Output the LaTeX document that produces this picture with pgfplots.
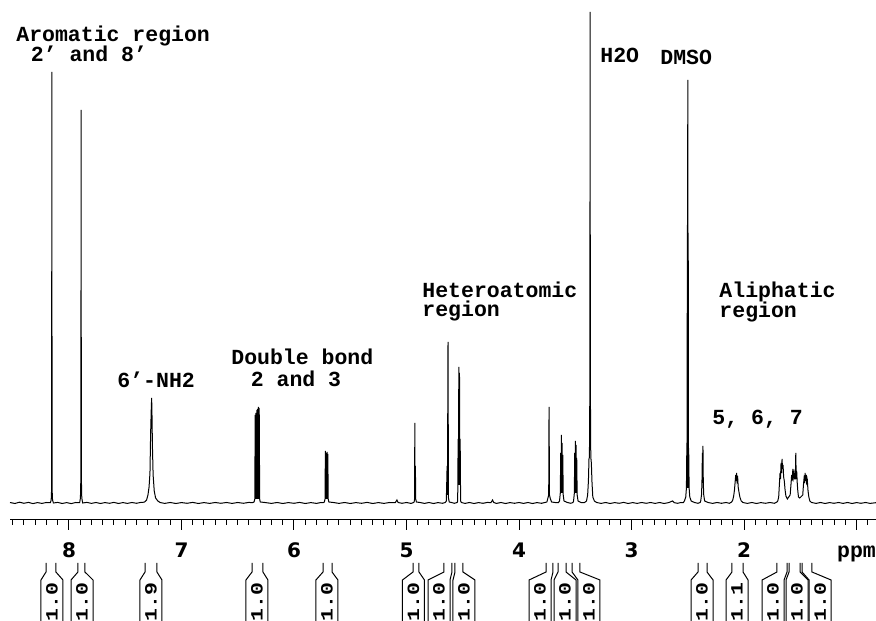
\documentclass[border=0pt]{standalone}
\usepackage{fontspec}
\usepackage{graphicx}
\usepackage{pgfplots}
\pgfplotsset{compat=1.18}
\newfontfamily\lmono{Liberation Mono}
\newfontfamily\dvs{DejaVu Sans}
\newcommand{\lab}{\fontsize{10.75pt}{10pt}\lmono\bfseries}
\newcommand{\integ}[4]{%
 \draw[line width=0.5pt] (axis cs:#1,-60) -- (axis cs:#1,-69) -- ([xshift=-5.5pt]axis cs:#3,-77) -- ([xshift=-5.5pt]axis cs:#3,-140);
 \draw[line width=0.5pt] (axis cs:#2,-60) -- (axis cs:#2,-69) -- ([xshift=5.5pt]axis cs:#3,-77) -- ([xshift=5.5pt]axis cs:#3,-140);
 \node[rotate=90, inner sep=0] at (axis cs:#3,-99) {\scalebox{1}[0.8]{\lab #4}};
}
\begin{document}
\begin{tikzpicture}
\begin{axis}[
 scale only axis, width=433pt, height=260pt,
 xmin=0.827, xmax=8.524, ymin=-17, ymax=503, x dir=reverse,
 axis x line*=bottom, axis y line=none,
 xtick={1,...,8}, xticklabels={{\lab ppm},2,3,4,5,6,7,8},
 minor xtick={0.9,1.0,...,8.5},
 tick align=outside, major tick length=5pt, minor tick length=2.5pt,
 every tick/.style={black, line width=0.5pt},
 axis line style={line width=0.5pt},
 xticklabel style={font=\dvs\bfseries\fontsize{10}{10}\selectfont, anchor=base, yshift=-14pt},
 clip=false,
]
\addplot[black, line width=0.5pt, mark=none] coordinates {
(8.524,0.5)(8.48,-0.5)(8.44,0.8)(8.40,-0.3)(8.36,0.6)(8.32,-0.6)(8.28,0.4)(8.24,-0.4)(8.20,0.5)
(8.165,0.3)(8.158,3)(8.154,14)(8.152,431)(8.150,14)(8.146,3)(8.138,0)
(8.10,0.6)(8.06,-0.5)(8.02,0.4)(7.98,-0.6)(7.94,0.5)
(7.905,0.3)(7.898,5)(7.894,26)(7.892,393)(7.890,26)(7.886,5)(7.878,0)
(7.84,0.6)(7.80,-0.4)(7.76,0.5)(7.72,-0.5)(7.68,0.4)(7.64,-0.3)(7.60,0.6)(7.56,-0.5)(7.52,0.4)(7.48,-0.4)(7.44,0.5)(7.40,-0.3)(7.36,0.6)(7.33,0.8)
(7.31,3)(7.298,8)(7.288,16)(7.280,30)(7.274,70)(7.269,92)(7.265,105)(7.262,88)(7.258,56)(7.252,28)(7.242,12)(7.230,5)(7.21,2)(7.19,0.5)
(7.15,-0.4)(7.10,0.5)(7.05,-0.5)(7.00,0.4)(6.95,-0.3)(6.90,0.6)(6.85,-0.5)(6.80,0.4)(6.75,-0.4)(6.70,0.5)(6.65,-0.3)(6.60,0.5)(6.55,-0.4)(6.50,0.5)(6.45,-0.3)(6.40,0.6)(6.37,0.3)
(6.355,1)(6.348,4)(6.345,88)(6.342,4)(6.338,90)(6.335,4)(6.330,93)(6.327,4)(6.323,94)(6.320,4)(6.316,96)(6.313,4)(6.309,95)(6.305,4)(6.300,1)
(6.26,0.5)(6.20,-0.4)(6.15,0.5)(6.10,-0.5)(6.05,0.4)(6.00,-0.3)(5.95,0.6)(5.90,-0.5)(5.85,0.4)(5.80,-0.4)(5.76,0.5)(5.74,0.3)
(5.73,1)(5.724,4)(5.721,52)(5.718,4)(5.714,50)(5.711,4)(5.706,51)(5.703,4)(5.699,49)(5.696,4)(5.69,1)
(5.65,0.5)(5.60,-0.4)(5.55,0.5)(5.50,-0.5)(5.45,0.4)(5.40,-0.3)(5.35,0.6)(5.30,-0.5)(5.25,0.4)(5.20,-0.4)(5.15,0.5)(5.10,0.3)(5.085,3)(5.075,0.5)(5.04,-0.3)(5.00,0.5)(4.96,-0.4)(4.94,0.3)
(4.932,1)(4.928,4)(4.926,80)(4.924,14)(4.921,37)(4.918,4)(4.912,1)
(4.88,0.5)(4.84,-0.4)(4.80,0.5)(4.76,-0.5)(4.72,0.4)(4.68,-0.3)(4.655,0.5)
(4.646,2)(4.639,37)(4.636,8)(4.631,161)(4.627,5)(4.62,1)(4.60,0.5)(4.575,-0.3)(4.55,0.5)
(4.545,2)(4.541,64)(4.538,18)(4.535,136)(4.532,18)(4.529,130)(4.526,18)(4.523,64)(4.519,2)(4.512,0.5)
(4.48,-0.4)(4.44,0.5)(4.40,-0.5)(4.36,0.4)(4.32,-0.3)(4.28,0.6)(4.25,0.3)(4.235,3)(4.225,0.5)(4.20,-0.4)(4.16,0.5)(4.12,-0.5)(4.08,0.4)(4.04,-0.3)(4.00,0.5)(3.96,-0.4)(3.92,0.5)(3.88,-0.5)(3.84,0.4)(3.80,-0.3)(3.77,0.5)
(3.752,1)(3.743,5)(3.736,8)(3.733,96)(3.729,8)(3.721,4)(3.71,1)
(3.68,0.5)(3.65,0.3)
(3.640,2)(3.633,10)(3.629,50)(3.626,10)(3.623,68)(3.620,10)(3.617,60)(3.614,10)(3.611,48)(3.607,8)(3.600,2)
(3.57,0.5)(3.54,-0.3)(3.52,0.5)
(3.515,2)(3.508,10)(3.505,50)(3.502,10)(3.499,62)(3.496,10)(3.493,58)(3.490,10)(3.487,45)(3.483,8)(3.475,2)
(3.45,0.5)(3.42,0.3)
(3.400,2)(3.390,8)(3.383,22)(3.378,44)(3.374,46)(3.370,120)(3.368,491)(3.366,120)(3.362,46)(3.357,40)(3.351,20)(3.344,6)(3.33,2)(3.31,0.5)
(3.27,-0.4)(3.23,0.5)(3.19,-0.5)(3.15,0.4)(3.11,-0.3)(3.07,0.6)(3.03,-0.5)(2.99,0.4)(2.95,-0.4)(2.91,0.5)(2.87,-0.3)(2.83,0.5)(2.79,-0.4)(2.75,0.5)(2.71,-0.5)(2.67,0.4)(2.635,2)(2.62,0.3)(2.59,-0.3)(2.56,0.5)(2.54,0.3)
(2.530,2)(2.518,6)(2.512,15)(2.508,60)(2.506,15)(2.504,278)(2.502,30)(2.500,423)(2.498,30)(2.496,270)(2.494,15)(2.492,55)(2.488,15)(2.482,6)(2.470,2)
(2.44,0.5)(2.41,-0.3)(2.39,0.5)
(2.385,2)(2.378,8)(2.374,20)(2.370,50)(2.368,20)(2.365,57)(2.362,20)(2.358,8)(2.350,2)
(2.32,0.5)(2.28,-0.4)(2.24,0.5)(2.20,-0.3)(2.16,0.5)(2.13,-0.3)(2.11,1)
(2.100,3)(2.092,7)(2.085,13)(2.079,21)(2.074,28)(2.070,22)(2.066,30)(2.062,23)(2.057,27)(2.052,16)(2.045,11)(2.037,6)(2.025,2)(2.01,0.5)
(1.97,-0.4)(1.93,0.5)(1.89,-0.5)(1.85,0.4)(1.81,-0.3)(1.77,0.5)(1.73,-0.3)(1.71,0.8)
(1.700,2)(1.692,6)(1.686,18)(1.680,30)(1.676,24)(1.671,40)(1.667,30)(1.662,44)(1.658,34)(1.653,38)(1.648,26)(1.642,22)(1.636,14)(1.628,7)
(1.615,4)
(1.590,8)(1.583,18)(1.577,28)(1.572,22)(1.566,34)(1.561,26)(1.556,30)(1.550,24)(1.544,24)(1.540,50)(1.536,24)(1.532,32)(1.527,20)(1.522,12)(1.516,6)
(1.505,5)
(1.478,8)(1.472,18)(1.467,24)(1.462,20)(1.457,30)(1.452,22)(1.447,28)(1.442,18)(1.437,22)(1.431,12)(1.424,6)(1.415,2)(1.40,0.5)
(1.36,-0.4)(1.32,0.5)(1.28,-0.5)(1.24,0.4)(1.20,-0.3)(1.16,0.5)(1.12,-0.4)(1.08,0.5)(1.04,-0.5)(1.00,0.4)(0.96,-0.3)(0.92,0.5)(0.88,-0.4)(0.827,0.3)
};
\node[anchor=base west, inner sep=0, font=\lab] at (axis cs:8.471,461) {Aromatic region};
\node[anchor=base west, inner sep=0, font=\lab] at (axis cs:8.342,441) {2’ and 8’};
\node[anchor=base west, inner sep=0, font=\lab] at (axis cs:7.573,115) {6’-NH2};
\node[anchor=base west, inner sep=0, font=\lab] at (axis cs:6.560,138) {Double bond};
\node[anchor=base west, inner sep=0, font=\lab] at (axis cs:6.387,116) {2 and 3};
\node[anchor=base west, inner sep=0, font=\lab] at (axis cs:4.862,205) {Heteroatomic};
\node[anchor=base west, inner sep=0, font=\lab] at (axis cs:4.862,186) {region};
\node[anchor=base west, inner sep=0, font=\lab] at (axis cs:3.280,440) {H2O};
\node[anchor=base west, inner sep=0, font=\lab] at (axis cs:2.747,438) {DMSO};
\node[anchor=base west, inner sep=0, font=\lab] at (axis cs:2.222,205) {Aliphatic};
\node[anchor=base west, inner sep=0, font=\lab] at (axis cs:2.222,185) {region};
\node[anchor=base west, inner sep=0, font=\lab] at (axis cs:2.284,78) {5, 6, 7};
\pgfplotsextra{
\integ{8.204}{8.116}{8.151}{1.0}
\integ{7.920}{7.858}{7.884}{1.0}
\integ{7.324}{7.218}{7.271}{1.9}
\integ{6.373}{6.276}{6.329}{1.0}
\integ{5.742}{5.662}{5.707}{1.0}
\integ{4.942}{4.889}{4.938}{1.0}
\integ{4.667}{4.596}{4.711}{1.0}
\integ{4.569}{4.498}{4.489}{1.0}
\integ{3.760}{3.698}{3.813}{1.0}
\integ{3.653}{3.582}{3.591}{1.0}
\integ{3.529}{3.458}{3.378}{1.0}
\integ{2.409}{2.329}{2.373}{1.0}
\integ{2.107}{2.009}{2.062}{1.1}
\integ{1.707}{1.618}{1.742}{1.0}
\integ{1.600}{1.502}{1.529}{1.0}
\integ{1.484}{1.396}{1.324}{1.0}
}
\coordinate (bbsw) at (axis cs:8.613,-118);
\coordinate (bbne) at (axis cs:0.827,503);
\end{axis}
\pgfresetboundingbox
\path[use as bounding box] (bbsw) rectangle (bbne);
\end{tikzpicture}
\end{document}
